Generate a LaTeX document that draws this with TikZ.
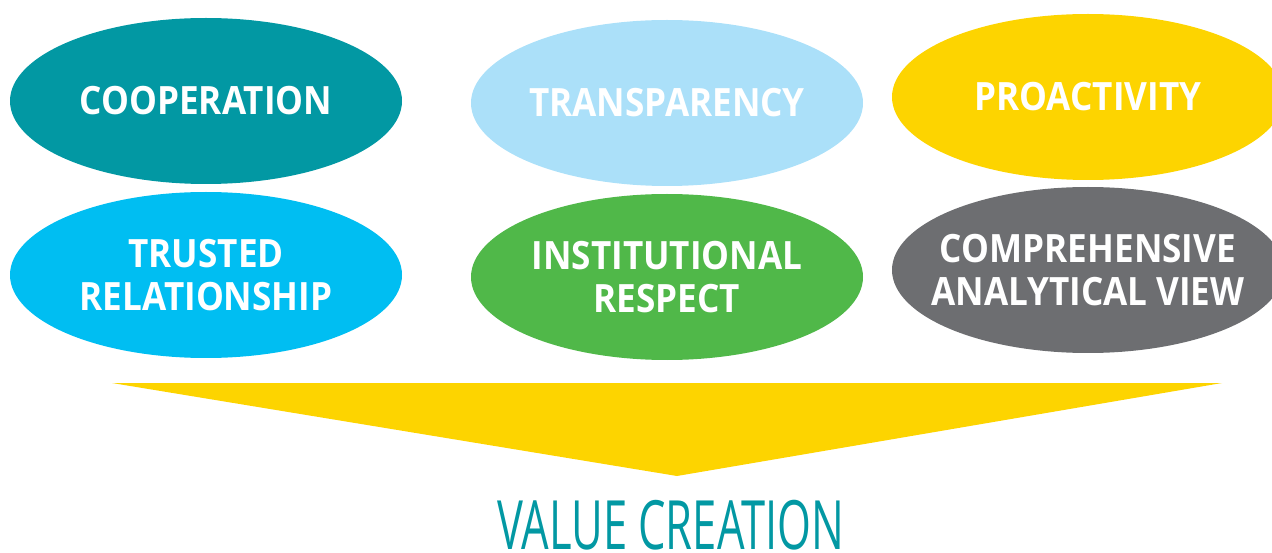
\documentclass[tikz,border=0pt]{standalone}
\usepackage{fontspec}
\setmainfont{Open Sans}
\newfontfamily\blobfont{Open Sans}[FakeStretch=0.9]
\newfontfamily\valuefont{Open Sans}[FakeStretch=0.64]
\usetikzlibrary{shapes.geometric}
\definecolor{coopteal}{RGB}{2,152,163}
\definecolor{transblue}{RGB}{171,224,249}
\definecolor{proyellow}{RGB}{253,212,0}
\definecolor{trustcyan}{RGB}{0,190,242}
\definecolor{instgreen}{RGB}{80,184,73}
\definecolor{compgrey}{RGB}{109,110,113}

\begin{document}
\begin{tikzpicture}[x=1pt,y=-1pt,
  blob/.style={ellipse,minimum width=392pt,minimum height=166pt,
               inner sep=-40pt,align=center,text=white,
               font=\blobfont\bfseries\fontsize{39}{43}\selectfont}]
\clip (0,0) rectangle (1272,553);
% top row
\node[blob,fill=coopteal] (coop) at (206,101) {COOPERATION};
\node[blob,fill=transblue] (trans) at (667,103) {TRANSPARENCY};
\node[blob,fill=proyellow] (proact) at (1088,97) {PROACTIVITY};
% bottom row
\node[blob,fill=trustcyan] (trust) at (206,275) {TRUSTED\\ RELATIONSHIP};
\node[blob,fill=instgreen] (inst) at (667,277) {INSTITUTIONAL\\ RESPECT};
\node[blob,fill=compgrey] (comp) at (1088,270)
  {COMPREHENSIVE\\ ANALYTICAL VIEW};
% funnel
\fill[proyellow] (112,383) -- (1222,383) -- (677,476) -- cycle;
\node[anchor=base,text=coopteal,inner sep=0pt,
      font=\valuefont\fontsize{68}{68}\selectfont] (value) at (671,549)
  {VALUE CREATION};
\end{tikzpicture}
\end{document}
